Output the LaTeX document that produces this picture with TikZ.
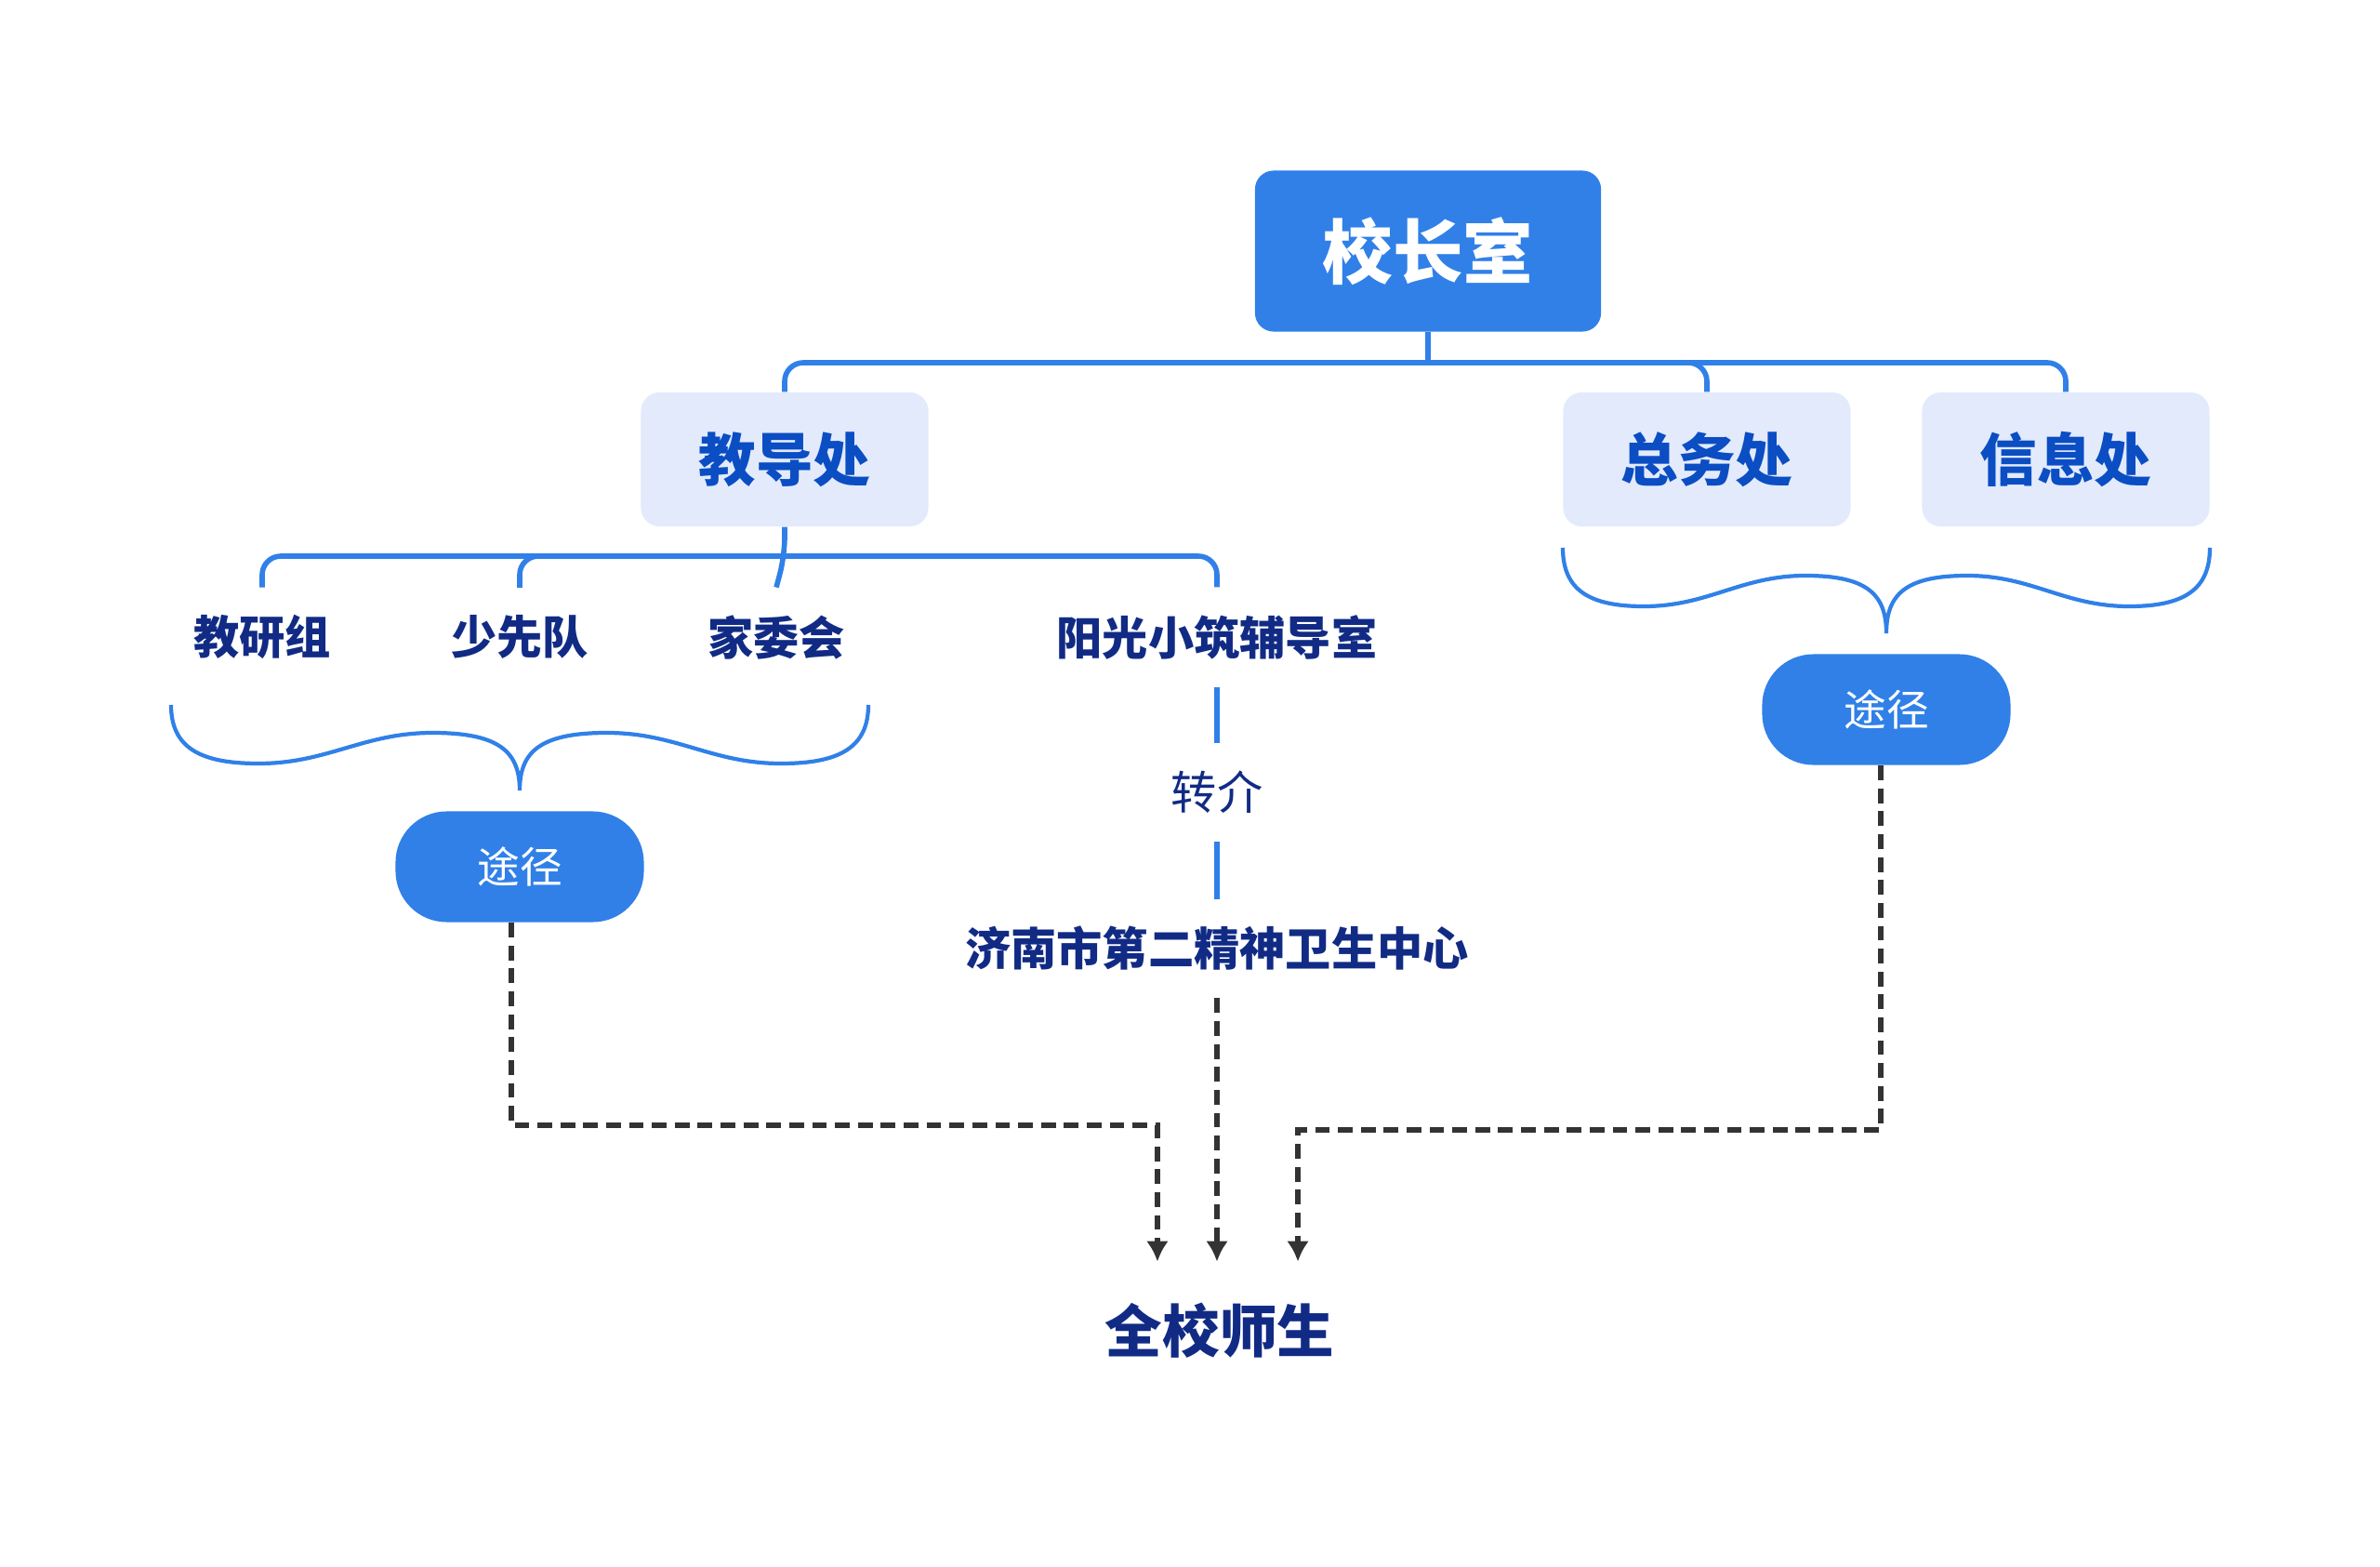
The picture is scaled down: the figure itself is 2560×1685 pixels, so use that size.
\documentclass[tikz,border=0pt]{standalone}
\usepackage{fontspec}
\setmainfont{Noto Sans CJK SC}
\usetikzlibrary{arrows.meta,positioning,calc}
\definecolor{boxblue}{HTML}{3080E8}
\definecolor{lightbox}{HTML}{E2EAFC}
\definecolor{depttext}{HTML}{0B4DC3}
\definecolor{navy}{HTML}{112B85}
\definecolor{darkline}{HTML}{333333}

% curly brace: centre x, top y, half width
\newcommand{\drawbrace}[3]{%
  \begin{scope}[shift={(#1,#2)}]
    \draw[bracestyle] (-#3,0) .. controls (-#3,45) and ({-0.92*#3},63) .. ({-0.75*#3},63)
      .. controls ({-0.55*#3},63) and ({-0.45*#3},30) .. ({-0.25*#3},30)
      .. controls ({-0.06*#3},30) and (0,50) .. (0,92)
      .. controls (0,50) and ({0.06*#3},30) .. ({0.25*#3},30)
      .. controls ({0.45*#3},30) and ({0.55*#3},63) .. ({0.75*#3},63)
      .. controls ({0.92*#3},63) and (#3,45) .. (#3,0);
  \end{scope}}

\begin{document}
\begin{tikzpicture}[x=0.01cm,y=-0.01cm,
    headbox/.style={fill=boxblue, text=white, rounded corners=0.2cm,
      minimum width=3.72cm, minimum height=1.73cm,
      font=\bfseries\fontsize{21.5}{26}\selectfont},
    deptbox/.style={fill=lightbox, text=depttext, rounded corners=0.2cm,
      minimum width=3.09cm, minimum height=1.44cm,
      font=\bfseries\fontsize{17.5}{21}\selectfont},
    childtext/.style={text=navy, inner xsep=0.05cm, inner ysep=0.29cm,
      font=\bfseries\fontsize{14}{17}\selectfont},
    linktext/.style={text=navy, inner xsep=0.05cm, inner ysep=0.29cm,
      font=\fontsize{14}{17}\selectfont},
    goaltext/.style={text=navy, inner xsep=0.05cm, inner ysep=0.44cm,
      font=\bfseries\fontsize{17.5}{21}\selectfont},
    pill/.style={fill=boxblue, text=white, rounded corners=0.55cm,
      minimum width=2.67cm, minimum height=1.19cm,
      font=\fontsize{13}{16}\selectfont},
    branch/.style={draw=boxblue, line width=1.6pt, rounded corners=0.2cm},
    bracestyle/.style={draw=boxblue, line width=1.2pt},
    dashlink/.style={draw=darkline, line width=1.7pt, dash pattern=on 4.5pt off 2.5pt,
      -{Latex[length=0.22cm,width=0.24cm]}}]

    \useasboundingbox (0,0) rectangle (2560,1685);

    % top level
    \node[headbox] (xz) at (1536,270) {校长室};
    \node[deptbox] (jd) at (844,494) {教导处};
    \node[deptbox] (zw) at (1836,494) {总务处};
    \node[deptbox] (xx) at (2222,494) {信息处};
    \coordinate (bus) at (1536,390);
    \draw[branch] (jd.north) |- (bus) -| (xx.north);
    \draw[branch] (xz.south) -- (xz.south |- bus);
    \draw[branch] (xz.south |- bus) -| (zw.north);

    % under the teaching office
    \node[childtext] (jy) at (282,685) {教研组};
    \node[childtext] (xd) at (559,685) {少先队};
    \node[childtext] (jw) at (835,685) {家委会};
    \node[childtext] (yg) at (1309,685) {阳光小筑辅导室};
    \coordinate (bus2) at (844,598);
    \draw[branch] (jy.north) |- (bus2) -| (yg.north);
    \draw[branch] (jd.south) -- (jd.south |- bus2) -- (jw.north);
    \draw[branch] (jd.south |- bus2) -| (xd.north);

    % referral
    \node[linktext] (zj) at (1309,852) {转介};
    \node[childtext] (jn) at (1309,1020) {济南市第二精神卫生中心};
    \draw[branch] (yg.south) -- (zj.north);
    \draw[branch] (zj.south) -- (jn.north);

    % braces and ways
    \drawbrace{559}{758}{375}
    \drawbrace{2029}{589}{348}
    \node[pill] (lp) at (559,932) {途径};
    \node[pill] (rp) at (2029,763) {途径};

    % to everyone
    \node[goaltext] (qx) at (1312,1431) {全校师生};
    \draw[dashlink] ([xshift=-0.09cm]lp.south) -- ++(0,218) -| ([xshift=-0.67cm]qx.north);
    \draw[dashlink] (jn.south) -- (jn.south |- qx.north);
    \draw[dashlink] ([xshift=-0.06cm]rp.south) -- ++(0,392) -| ([xshift=0.84cm]qx.north);
\end{tikzpicture}
\end{document}
